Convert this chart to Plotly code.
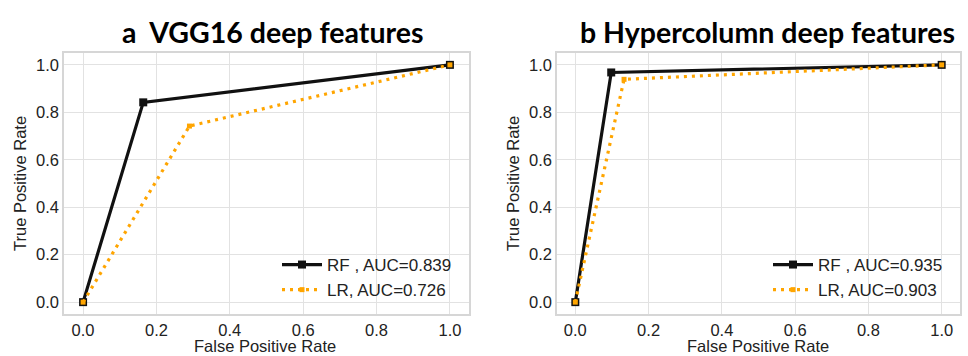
import plotly.graph_objects as go

# Data
rf_a_fpr = [0.0, 0.164, 1.0]
rf_a_tpr = [0.0, 0.842, 1.0]
lr_a_fpr = [0.0, 0.29, 1.0]
lr_a_tpr = [0.0, 0.742, 1.0]

rf_b_fpr = [0.0, 0.098, 1.0]
rf_b_tpr = [0.0, 0.968, 1.0]
lr_b_fpr = [0.0, 0.133, 1.0]
lr_b_tpr = [0.0, 0.939, 1.0]

labels_a = ["RF , AUC=0.839", "LR, AUC=0.726"]
labels_b = ["RF , AUC=0.935", "LR, AUC=0.903"]
titles = ["a\u00a0\u00a0VGG16 deep features", "b\u00a0Hypercolumn deep features"]
x_title = "False Positive Rate"
y_title = "True Positive Rate"
ticks = [0.0, 0.2, 0.4, 0.6, 0.8, 1.0]
tick_text = ["0.0", "0.2", "0.4", "0.6", "0.8", "1.0"]

BLACK = "#111111"
ORANGE = "#FFA500"
tickfont = dict(family="Liberation Sans, Arial", size=16.5, color="#222")
titlefont = dict(family="Liberation Sans, Arial", size=16.5, color="#222")
legfont = dict(family="Liberation Sans, Arial", size=17, color="#222")

fig = go.Figure()

def add_panel(fig, xa, ya, leg, rf_x, rf_y, lr_x, lr_y, labels):
    fig.add_trace(go.Scatter(
        x=rf_x, y=rf_y, mode="lines+markers", name=labels[0],
        line=dict(color=BLACK, width=3.2),
        marker=dict(symbol="square", size=8, color=BLACK),
        xaxis=xa, yaxis=ya, legend=leg))
    fig.add_trace(go.Scatter(
        x=lr_x, y=lr_y, mode="lines+markers", name=labels[1],
        line=dict(color=ORANGE, width=3.2, dash="3px,5px"),
        marker=dict(symbol="square", size=5, color=ORANGE),
        xaxis=xa, yaxis=ya, legend=leg))

add_panel(fig, "x", "y", "legend", rf_a_fpr, rf_a_tpr, lr_a_fpr, lr_a_tpr, labels_a)
add_panel(fig, "x2", "y2", "legend2", rf_b_fpr, rf_b_tpr, lr_b_fpr, lr_b_tpr, labels_b)

axis_common = dict(
    showgrid=True, gridcolor="#e2e2e2", gridwidth=1,
    showline=True, linecolor="#d6d6d6", linewidth=1.5, mirror=True,
    zeroline=False, ticks="", tickvals=ticks, ticktext=tick_text,
    tickfont=tickfont, automargin=False,
)

ydom = [1 - 314 / 356, 1 - 53 / 356]
fig.update_layout(
    width=968, height=356,
    margin=dict(l=0, r=0, t=0, b=0),
    paper_bgcolor="white", plot_bgcolor="white",
    xaxis=dict(axis_common, domain=[64 / 968, 469 / 968], range=[-0.052, 1.052], anchor="y"),
    yaxis=dict(axis_common, domain=ydom, range=[-0.05, 1.05], anchor="x"),
    xaxis2=dict(axis_common, domain=[557 / 968, 960 / 968], range=[-0.05, 1.05], anchor="y2"),
    yaxis2=dict(axis_common, domain=ydom, range=[-0.05, 1.05], anchor="x2"),
    legend=dict(x=277 / 968, y=1 - 308 / 356, xanchor="left", yanchor="bottom",
                bgcolor="rgba(0,0,0,0)", font=legfont, tracegroupgap=0, itemwidth=40),
    legend2=dict(x=768 / 968, y=1 - 308 / 356, xanchor="left", yanchor="bottom",
                 bgcolor="rgba(0,0,0,0)", font=legfont, tracegroupgap=0, itemwidth=40),
    showlegend=True,
)

# panel titles
for t, xc in zip(titles, [272, 767]):
    fig.add_annotation(text="<b>" + t + "</b>", x=xc / 968, y=1 - 32 / 356,
                       xref="paper", yref="paper", showarrow=False, xanchor="center", yanchor="middle",
                       font=dict(family="Lato, Open Sans", size=28.5, color="black"))

# axis titles
for xc in [265, 758]:
    fig.add_annotation(text=x_title, x=xc / 968, y=0, xref="paper", yref="paper",
                       showarrow=False, xanchor="center", yanchor="bottom", borderpad=0,
                       font=titlefont)
for xc in [20, 513]:
    fig.add_annotation(text=y_title, x=xc / 968, y=1 - 184 / 356, xref="paper", yref="paper",
                       showarrow=False, xanchor="center", yanchor="middle", textangle=-90,
                       font=titlefont)

fig.write_html("out.html")
